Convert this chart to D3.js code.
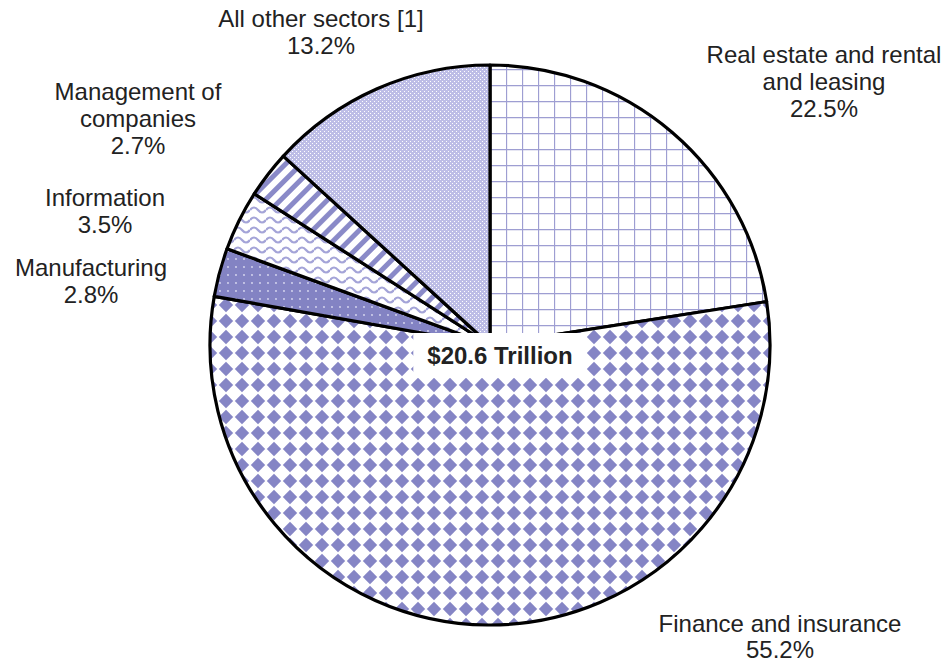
<!DOCTYPE html>
<html>
<head>
<meta charset="utf-8">
<script src="https://cdn.jsdelivr.net/npm/d3@7"></script>
<style>
  body { margin: 0; background: #fff; }
  svg { display: block; font-family: "Liberation Sans", Arial, sans-serif; }
</style>
</head>
<body>
<svg id="chart" width="944" height="664"></svg>
<script>
// data, clockwise from 12 o'clock
const sectors = ['Real estate and rental|and leasing', 'Finance and insurance', 'Manufacturing',
                 'Information', 'Management of|companies', 'All other sectors [1]'];
const shares = [22.5, 55.2, 2.8, 3.5, 2.7, 13.2];
const totalLabel = '$20.6 Trillion';

// layout
const width = 944, height = 664,
      cx = 490, cy = 345, radius = 280,
      fontSize = 24, lineGap = 27;
const fills = ['grid', 'diamond', 'dots', 'waves', 'stripes', 'checker'];
// label block centre x and first baseline y, one per slice
const labelPos = [[824, 63], [780, 632], [91, 276], [105, 206], [138, 100], [321, 27]];

const svg = d3.select('#chart');
const defs = svg.append('defs');

function pattern(id, w, h) {
  return defs.append('pattern').attr('id', id)
      .attr('patternUnits', 'userSpaceOnUse')
      .attr('width', w).attr('height', h);
}

// grid
let p = pattern('grid', 16, 16).attr('y', 12);
p.append('rect').attr('width', 16).attr('height', 16).attr('fill', '#fff');
p.append('path').attr('d', 'M0 0.5H16M0.5 0V16').attr('stroke', '#9e9ed2').attr('stroke-width', 1.3);

// diamonds
p = pattern('diamond', 16, 16);
p.append('rect').attr('width', 16).attr('height', 16).attr('fill', '#fff');
p.append('path').attr('d', 'M8 0.8L15.2 8L8 15.2L0.8 8Z').attr('fill', '#8585c5');

// dots
p = pattern('dots', 8, 8);
p.append('rect').attr('width', 8).attr('height', 8).attr('fill', '#8383c3');
p.append('circle').attr('cx', 2).attr('cy', 2).attr('r', 0.9).attr('fill', '#dcdcf2');

// waves
p = pattern('waves', 16, 10);
p.append('rect').attr('width', 16).attr('height', 10).attr('fill', '#fff');
p.append('path').attr('d', 'M0 5Q4 0 8 5T16 5').attr('fill', 'none')
    .attr('stroke', '#a4a4d8').attr('stroke-width', 2.2);

// wide diagonal stripes
p = pattern('stripes', 11, 11).attr('patternTransform', 'rotate(45)');
p.append('rect').attr('width', 11).attr('height', 11).attr('fill', '#fff');
p.append('rect').attr('width', 5).attr('height', 11).attr('fill', '#8a8ac8');

// fine texture, reads as light lavender
p = pattern('checker', 4, 4);
p.append('rect').attr('width', 4).attr('height', 4).attr('fill', '#bdbde6');
p.append('rect').attr('width', 1).attr('height', 1).attr('fill', '#fff');
p.append('rect').attr('x', 2).attr('y', 2).attr('width', 1).attr('height', 1).attr('fill', '#fff');

const pie = d3.pie().value(d => d).sort(null);
const arc = d3.arc().innerRadius(0).outerRadius(radius);

const g = svg.append('g').attr('transform', 'translate(' + cx + ',' + cy + ')');

g.selectAll('path.slice')
    .data(pie(shares))
    .enter().append('path')
    .attr('class', 'slice')
    .attr('d', arc)
    .attr('fill', (d, i) => 'url(#' + fills[i] + ')')
    .attr('stroke', '#000')
    .attr('stroke-width', 3.2)
    .attr('stroke-linejoin', 'round');

// data labels
const labels = svg.append('g')
    .attr('font-size', fontSize)
    .attr('fill', '#222')
    .attr('text-anchor', 'middle');

sectors.forEach(function(name, i) {
  const lines = name.split('|').concat([d3.format('.1f')(shares[i]) + '%']);
  const gap = i === 1 ? lineGap - 1 : lineGap;
  const t = labels.append('text')
      .attr('x', labelPos[i][0])
      .attr('y', labelPos[i][1]);
  lines.forEach(function(line, j) {
    t.append('tspan')
        .attr('x', labelPos[i][0])
        .attr('dy', j === 0 ? 0 : gap)
        .text(line);
  });
});

// total in the middle, on a white box
const box = svg.append('g');
const rect = box.append('rect').attr('fill', '#fff');
const total = box.append('text')
    .attr('x', 500).attr('y', 364)
    .attr('text-anchor', 'middle')
    .attr('font-size', fontSize)
    .attr('font-weight', 'bold')
    .attr('fill', '#222')
    .text(totalLabel);
const bb = total.node().getBBox();
rect.attr('x', bb.x - 14).attr('y', bb.y - 9)
    .attr('width', bb.width + 28).attr('height', bb.height + 18);
</script>
</body>
</html>
